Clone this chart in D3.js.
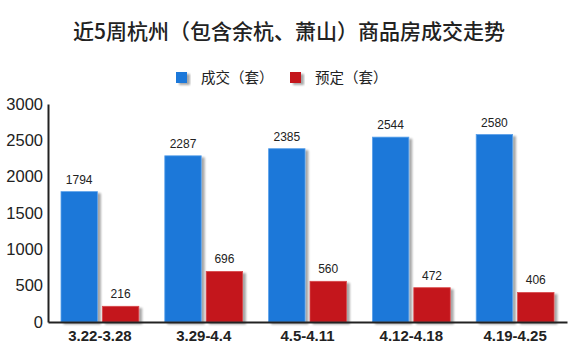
<!DOCTYPE html>
<html><head><meta charset="utf-8">
<script src="https://cdn.jsdelivr.net/npm/d3@7"></script>
<style>body{margin:0;background:#fff}svg{display:block}</style>
</head><body>
<svg id="c" width="570" height="360"></svg>
<script>
const categories = ["3.22-3.28","3.29-4.4","4.5-4.11","4.12-4.18","4.19-4.25"];
const seriesNames = ["成交（套）","预定（套）"];
const dealValues = [1794,2287,2385,2544,2580];
const bookValues = [216,696,560,472,406];
const yTicks = [0,500,1000,1500,2000,2500,3000];
const colors = ["#1b78d9","#c4161b"];

const svg = d3.select("#c");
const m = {l:48, r:3, t:104, b:38};
const W = 570, H = 360;
const x = d3.scaleBand().domain(categories).range([m.l, W - m.r]).paddingInner(0).paddingOuter(0);
const y = d3.scaleLinear().domain([0,3000]).range([322, 104]);
const x1 = d3.scaleBand().domain([0,1]).range([13, x.bandwidth()-13]).paddingInner(0.12);

const defs = svg.append("defs");
const f = defs.append("filter").attr("id","sh").attr("x","-20%").attr("y","-20%").attr("width","150%").attr("height","150%");
f.append("feGaussianBlur").attr("in","SourceAlpha").attr("stdDeviation",1.2).attr("result","b");
f.append("feOffset").attr("in","b").attr("dx",3).attr("dy",2).attr("result","o");
f.append("feComponentTransfer").attr("in","o").attr("result","o2").append("feFuncA").attr("type","linear").attr("slope",0.35);
const mg = f.append("feMerge"); mg.append("feMergeNode").attr("in","o2"); mg.append("feMergeNode").attr("in","SourceGraphic");

svg.append("text").attr("x",289).attr("y",39).attr("text-anchor","middle")
  .attr("font-family","'Noto Sans CJK SC', sans-serif").attr("font-size",21).attr("font-weight",500).attr("fill","#222")
  .text("近5周杭州（包含余杭、萧山）商品房成交走势");

// legend
const lg = [{x:176, tx:201},{x:290, tx:315}];
seriesNames.forEach((n,i)=>{
  svg.append("rect").attr("x",lg[i].x).attr("y",72).attr("width",11).attr("height",11).attr("fill",colors[i]).attr("filter","url(#sh)");
  svg.append("text").attr("x",lg[i].tx).attr("y",83).attr("font-family","'Noto Sans CJK SC', sans-serif").attr("font-size",14.5).attr("font-weight",400).attr("fill","#222").text(n);
});

// bars
const series = [dealValues, bookValues];
series.forEach((vals,si)=>{
  const g = svg.append("g");
  g.selectAll("rect").data(vals).join("rect")
    .attr("x",(d,i)=>x(categories[i])+x1(si))
    .attr("y",d=>y(d))
    .attr("width",x1.bandwidth())
    .attr("height",d=>y(0)-y(d))
    .attr("fill",colors[si])
    .attr("stroke", si===0 ? "#5aa0ea" : "#d9494c").attr("stroke-width",0.8)
    .attr("filter","url(#sh)");
  g.selectAll("text").data(vals).join("text")
    .attr("x",(d,i)=>x(categories[i])+x1(si)+x1.bandwidth()/2)
    .attr("y",d=>y(d)-8)
    .attr("text-anchor","middle").attr("font-family","Arial, 'Liberation Sans', sans-serif").attr("font-size",12).attr("fill","#222")
    .text(d=>d);
});

// axes
const ya = d3.axisLeft(y).tickValues(yTicks).tickFormat(d3.format("d")).tickSize(0).tickPadding(5);
const gy = svg.append("g").attr("transform",`translate(${m.l},0)`).call(ya);
gy.select(".domain").attr("stroke","#222").attr("stroke-width",2);
gy.selectAll("text").attr("font-family","Arial, 'Liberation Sans', sans-serif").attr("font-size",16.5).attr("fill","#222");

const xa = d3.axisBottom(x).tickSize(0).tickPadding(8);
const gx = svg.append("g").attr("transform",`translate(0,${y(0)})`).call(xa);
gx.select(".domain").attr("stroke","#222").attr("stroke-width",2);
gx.selectAll("text").attr("font-family","Arial, 'Liberation Sans', sans-serif").attr("font-size",15).attr("font-weight","bold").attr("fill","#222");
</script>
</body></html>
